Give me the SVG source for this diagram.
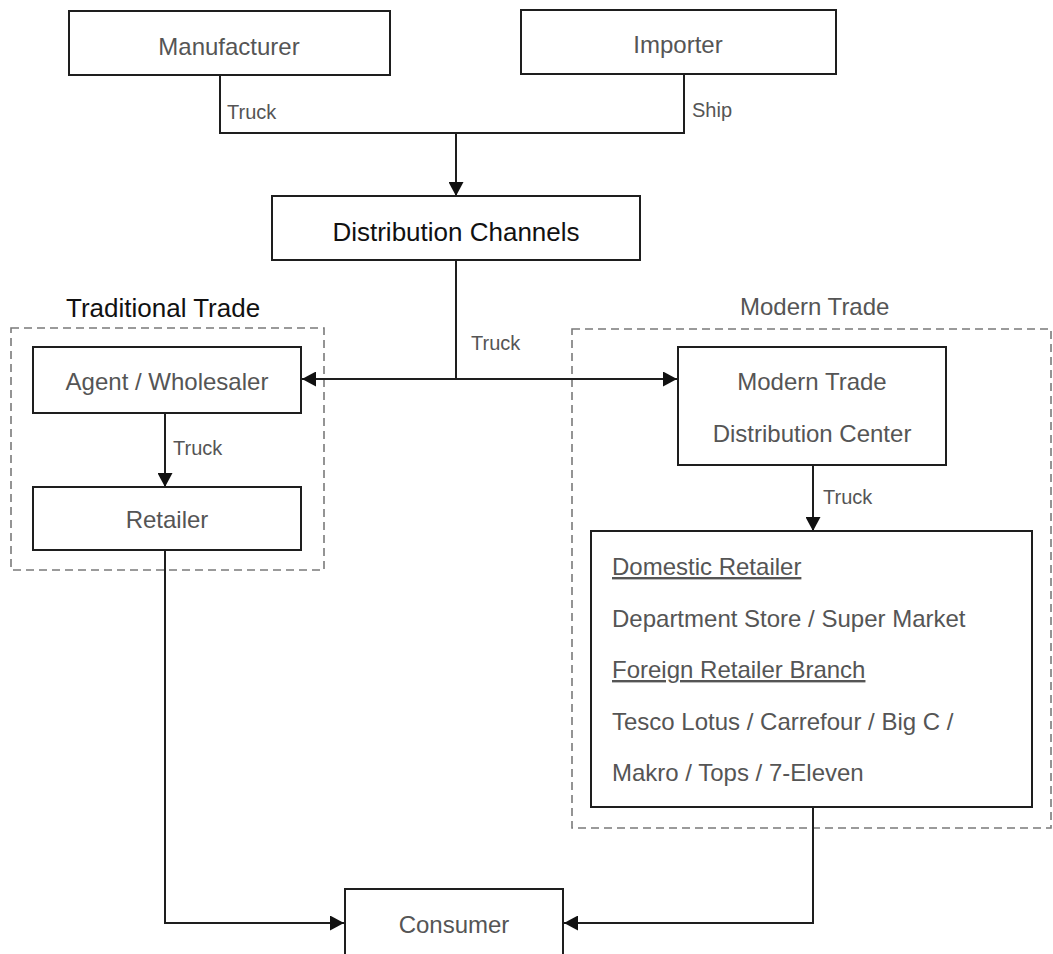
<svg xmlns="http://www.w3.org/2000/svg" width="1053" height="954" viewBox="0 0 1053 954">
  <style>
    .box { fill: #ffffff; stroke: #1e1e1e; stroke-width: 2; }
    .group { fill: none; stroke: #7a7a7a; stroke-width: 1.6; stroke-dasharray: 8 5; }
    .wire { fill: none; stroke: #1e1e1e; stroke-width: 2; }
    .t { font-family: "Liberation Sans", Arial, sans-serif; font-size: 24px; fill: #555555; }
    .mid { text-anchor: middle; }
    .dark { fill: #111111; font-size: 26px; }
    .lbl { font-family: "Liberation Sans", Arial, sans-serif; font-size: 20px; fill: #555555; }
    .ul { text-decoration: underline; }
  </style>
  <defs>
    <marker id="arrow" markerWidth="15" markerHeight="15" refX="14" refY="7.5" orient="auto" markerUnits="userSpaceOnUse">
      <path d="M0,0 L14,7.5 L0,15 Z" fill="#111111"/>
    </marker>
  </defs>

  <rect width="1053" height="954" fill="#ffffff"/>

  <!-- trade groupings -->
  <g id="traditional-trade">
    <rect class="group" x="11" y="328" width="313" height="242"/>
    <text class="t dark" x="66" y="317">Traditional Trade</text>
  </g>
  <g id="modern-trade">
    <rect class="group" x="572" y="329" width="479" height="499"/>
    <text class="t" x="740" y="315">Modern Trade</text>
  </g>

  <!-- connectors -->
  <g id="connectors">
    <polyline class="wire" points="220,75 220,133 684,133 684,74"/>
    <line class="wire" x1="456" y1="133" x2="456" y2="196" marker-end="url(#arrow)"/>
    <text class="lbl" x="227" y="119">Truck</text>
    <text class="lbl" x="692" y="117">Ship</text>

    <line class="wire" x1="456" y1="260" x2="456" y2="379"/>
    <line class="wire" x1="456" y1="379" x2="302" y2="379" marker-end="url(#arrow)"/>
    <line class="wire" x1="456" y1="379" x2="677" y2="379" marker-end="url(#arrow)"/>
    <text class="lbl" x="471" y="350">Truck</text>

    <line class="wire" x1="165" y1="413" x2="165" y2="487" marker-end="url(#arrow)"/>
    <text class="lbl" x="173" y="455">Truck</text>

    <line class="wire" x1="813" y1="465" x2="813" y2="531" marker-end="url(#arrow)"/>
    <text class="lbl" x="823" y="504">Truck</text>

    <polyline class="wire" points="165,550 165,923 344,923" marker-end="url(#arrow)"/>
    <polyline class="wire" points="813,807 813,923 564,923" marker-end="url(#arrow)"/>
  </g>

  <!-- nodes -->
  <g id="manufacturer">
    <rect class="box" x="69" y="11" width="321" height="64"/>
    <text class="t mid" x="229" y="55">Manufacturer</text>
  </g>
  <g id="importer">
    <rect class="box" x="521" y="10" width="315" height="64"/>
    <text class="t mid" x="678" y="53">Importer</text>
  </g>
  <g id="distribution-channels">
    <rect class="box" x="272" y="196" width="368" height="64"/>
    <text class="t mid dark" x="456" y="241">Distribution Channels</text>
  </g>
  <g id="agent-wholesaler">
    <rect class="box" x="33" y="347" width="268" height="66"/>
    <text class="t mid" x="167" y="390">Agent / Wholesaler</text>
  </g>
  <g id="retailer">
    <rect class="box" x="33" y="487" width="268" height="63"/>
    <text class="t mid" x="167" y="528">Retailer</text>
  </g>
  <g id="modern-trade-dc">
    <rect class="box" x="678" y="347" width="268" height="118"/>
    <text class="t mid" x="812" y="390">Modern Trade</text>
    <text class="t mid" x="812" y="442">Distribution Center</text>
  </g>
  <g id="modern-retailers">
    <rect class="box" x="591" y="531" width="441" height="276"/>
    <text class="t ul" x="612" y="575">Domestic Retailer</text>
    <text class="t" x="612" y="627">Department Store / Super Market</text>
    <text class="t ul" x="612" y="678">Foreign Retailer Branch</text>
    <text class="t" x="612" y="730">Tesco Lotus / Carrefour / Big C /</text>
    <text class="t" x="612" y="781">Makro / Tops / 7-Eleven</text>
  </g>
  <g id="consumer">
    <rect class="box" x="345" y="889" width="218" height="70"/>
    <text class="t mid" x="454" y="933">Consumer</text>
  </g>
</svg>
